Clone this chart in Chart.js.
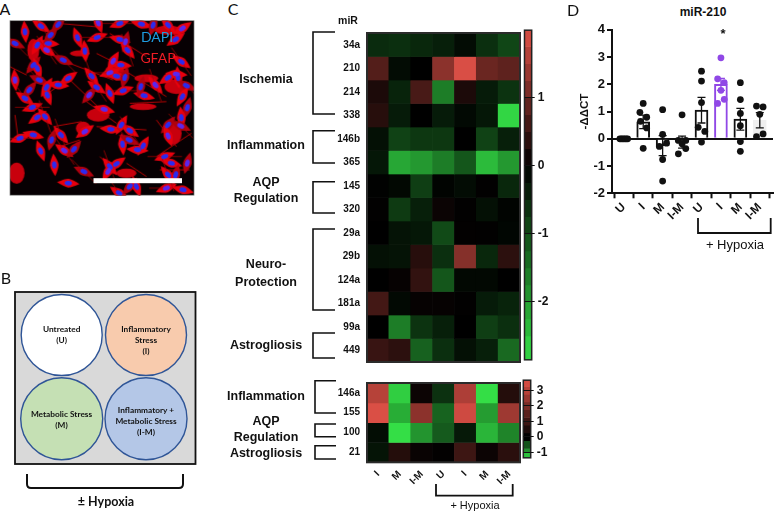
<!DOCTYPE html>
<html><head><meta charset="utf-8">
<style>
html,body{margin:0;padding:0;background:#fff;width:777px;height:512px;overflow:hidden}
canvas{position:absolute}
svg{position:absolute;left:0;top:0}
.t{position:absolute;white-space:nowrap;transform:translate(-50%,-50%);line-height:1;color:#111}
</style>
<script src="https://cdn.jsdelivr.net/npm/chart.js@4"></script>
</head><body>
<svg id="art" width="777" height="512" xmlns="http://www.w3.org/2000/svg"></svg>
<canvas id="heat1"></canvas><canvas id="bar1"></canvas>
<canvas id="heat2"></canvas><canvas id="bar2"></canvas>
<canvas id="panelD"></canvas>
<script>
// ---------- data ----------
const heatColumns = ['I','M','I-M','U','I','M','I-M'];
const rowsTop = ['34a','210','214','338','146b','365','145','320','29a','29b','124a','181a','99a','449'];
const valuesTop = [
 [-0.55,-0.6,-0.5,-0.4,-0.15,-0.6,-0.9],
 [0.75,-0.15,0,1.25,1.95,0.95,0.85],
 [0.25,-0.45,0.65,-1.6,0.25,-0.35,-0.65],
 [0.35,-0.35,0,-0.35,-0.12,-0.3,-2.75],
 [-0.2,-0.85,-0.7,-0.7,0,-0.85,-0.4],
 [-0.3,-2.15,-1.95,-1.6,-1.1,-2.4,-1.95],
 [-0.03,-0.1,-0.8,-0.05,-0.15,0.02,-0.5],
 [0.02,-0.75,-0.4,0.1,0.02,-0.2,-0.05],
 [0,-0.25,-0.3,-0.95,0.03,0.02,-0.08],
 [-0.2,-0.25,0.35,-0.6,1.2,-0.5,0.4],
 [0,0.05,0.45,-1.1,-0.1,-0.1,0],
 [0.6,-0.12,0.05,0.05,0.02,-0.35,-0.45],
 [0,-1.6,-0.65,-0.4,0,-0.8,-0.6],
 [0.5,0.4,-1.25,-0.6,-0.2,-0.4,-1.35]];
const rowsBottom = ['146a','155','100','21'];
const valuesBottom = [
 [3.0,-1.25,0.2,-0.3,2.85,-1.35,0.6],
 [3.6,-1.05,2.3,-0.6,3.4,-0.95,2.6],
 [-0.08,-1.35,-0.9,-0.55,-0.15,-1.1,-0.8],
 [-0.12,0.6,0.15,0.05,1.0,0.2,0.7]];
const scaleTopEdges = [1.99,1.75,1.5,1.25,1,0.75,0.5,0.25,0,-0.25,-0.5,-0.75,-1,-1.25,-1.5,-1.75,-2,-2.25,-2.5,-2.85];
const scaleBottomEdges = [3.66,3.25,2.75,2.25,1.75,1.25,0.75,0.25,-0.25,-0.75,-1,-1.35];
const scaleTopTicks = [-2,-1,0,1];
const scaleBottomTicks = [-1,0,1,2,3];

const barLabels = ['U','I','M','I-M','U','I','M','I-M'];
const barMeans = [0,0.62,-0.25,-0.12,1.05,2.0,0.72,0.68];
const barErrors = [0,0.25,0.37,0.22,0.47,0.22,0.4,0.28];
const pointsByBar = [
 [0,0,0,0,0,0],
 [1.3,0.97,0.79,0.64,0.4,-0.35],
 [1.07,0.16,-0.28,-0.16,-0.76,-1.55],
 [0.88,-0.06,-0.06,-0.18,-0.36,-0.55],
 [2.48,2.12,1.33,0.42,0.27,-0.12],
 [2.97,2.2,2.06,1.78,1.45,1.3],
 [2.06,1.44,0.93,0.48,-0.1,-0.46],
 [1.2,1.17,0.9,0.18,0.08]];
const pointSpread = [
 [-0.2,-0.12,-0.04,0.04,0.12,0.2],
 [0,-0.17,0.18,-0.14,0.18,0],
 [0,0,-0.17,0.2,0,0],
 [0,-0.19,0.19,0,0.19,-0.19],
 [0,0,0,-0.17,0.17,0],
 [0,-0.17,0.17,0,0.17,-0.17],
 [0,0,0,0,0,0],
 [-0.17,0.17,0,0.17,-0.17]];

// ---------- helpers ----------
const FONT = '"Liberation Sans", Arial, sans-serif';
Chart.defaults.font.family = FONT;
Chart.defaults.color = '#111';
Chart.defaults.animation = false;
Chart.defaults.responsive = false;
Chart.defaults.plugins.legend.display = false;
Chart.defaults.plugins.tooltip.enabled = false;

function place(id,l,t,w,h){const c=document.getElementById(id);c.width=w;c.height=h;c.style.left=l+'px';c.style.top=t+'px';c.style.width=w+'px';c.style.height=h+'px';return c;}
function mix(v,hi,lo,red,green){const k=v>=0?v/hi:v/lo,c=v>=0?red:green;return `rgb(${c.map(x=>Math.round(x*k)).join(',')})`;}
const colourTop=v=>mix(v,1.99,-2.85,[221,80,70],[52,222,70]);
const colourBottom=v=>mix(v,3.66,-1.35,[222,80,70],[52,222,70]);
const frame=(w,col)=>({id:'frame',afterDatasetsDraw(ch){const a=ch.chartArea,x=ch.ctx;x.save();x.strokeStyle=col;x.lineWidth=w;x.strokeRect(a.left,a.top,a.right-a.left,a.bottom-a.top);x.restore();}});

function heatmap(id,rows,values,colour,pad,xHeight,showX){
 return new Chart(document.getElementById(id),{type:'bar',
  data:{labels:heatColumns,datasets:rows.map((r,i)=>({label:r,grouped:false,data:values[i].map(()=>[i,i+1]),
    backgroundColor:values[i].map(colour),borderWidth:0,barPercentage:1,categoryPercentage:1}))},
  options:{layout:{padding:pad},scales:{
   x:{display:showX,grid:{display:false,drawTicks:false},border:{display:false},afterFit:s=>{s.height=xHeight},
      ticks:{font:{size:10,weight:'bold'},minRotation:45,maxRotation:45,padding:6,autoSkip:false}},
   y:{min:0,max:rows.length,reverse:true,grid:{display:false,drawTicks:false},border:{display:false},
      afterFit:s=>{s.width=47},
      afterBuildTicks:a=>{a.ticks=rows.map((_,i)=>({value:i+0.5}))},
      ticks:{font:{size:10,weight:'bold'},padding:7,autoSkip:false,callback:v=>rows[Math.floor(v)]}}}},
  plugins:[frame(2,'#2b2b2b')]});
}
function colourScale(id,edges,ticks,colour,pad,axisWidth){
 const steps=edges.slice(0,-1).map((e,i)=>[edges[i+1],e]);
 return new Chart(document.getElementById(id),{type:'bar',
  data:{labels:[''],datasets:steps.map(s=>({grouped:false,data:[s],backgroundColor:colour((s[0]+s[1])/2),borderWidth:0,barPercentage:1,categoryPercentage:1}))},
  options:{layout:{padding:pad},scales:{
   x:{display:false},
   y:{position:'right',min:edges[edges.length-1],max:edges[0],border:{display:false},
      grid:{z:1,color:'#111',lineWidth:1,tickLength:3,tickColor:'#111'},
      afterFit:s=>{s.width=axisWidth},
      afterBuildTicks:a=>{a.ticks=ticks.map(v=>({value:v}))},
      ticks:{font:{size:12,weight:'bold'},padding:3,autoSkip:false,callback:v=>String(v)}}}},
  plugins:[frame(1.5,'#222')]});
}

// ---------- charts ----------
place('heat1',320,20,205,355);
heatmap('heat1',rowsTop,valuesTop,colourTop,{top:7,bottom:4.5,right:5},0,false);
place('bar1',520,20,45,350);
colourScale('bar1',scaleTopEdges,scaleTopTicks,colourTop,{left:4.5,top:5,bottom:3.3},33.3);
place('heat2',320,370,205,120);
heatmap('heat2',rowsBottom,valuesBottom,colourBottom,{top:5.7,right:5},27.7,true);
place('bar2',518,370,45,98);
colourScale('bar2',scaleBottomEdges,scaleBottomTicks,colourBottom,{left:5.3,top:6.7,bottom:6},32.3);

const PURPLE='#9048e6', HILITE=5, FAINT=7;
const errorBars={id:'errorBars',afterDatasetsDraw(ch){
 const x=ch.scales.x,y=ch.scales.y,g=ch.ctx;g.save();g.lineWidth=1.3;
 barMeans.forEach((m,i)=>{if(!barErrors[i])return;const px=x.getPixelForValue(i),a=y.getPixelForValue(m-barErrors[i]),b=y.getPixelForValue(m+barErrors[i]);
  g.strokeStyle=i===HILITE?PURPLE:'#111';g.beginPath();g.moveTo(px,a);g.lineTo(px,b);g.moveTo(px-4,a);g.lineTo(px+4,a);g.moveTo(px-4,b);g.lineTo(px+4,b);g.stroke();});
 g.restore();}};
place('panelD',570,20,207,210);
new Chart(document.getElementById('panelD'),{type:'bar',
 data:{datasets:[
  {type:'scatter',order:1,data:pointsByBar.flatMap((p,i)=>p.map((v,j)=>({x:i+pointSpread[i][j],y:v}))),
   backgroundColor:pointsByBar.flatMap((p,i)=>p.map(()=>i===HILITE?PURPLE:'#111')),pointRadius:3.4,borderWidth:0},
  {type:'bar',order:2,data:barMeans.map((v,i)=>({x:i,y:v})),barThickness:13,
   backgroundColor:barMeans.map((_,i)=>i===FAINT?'#efefef':'#fff'),
   borderColor:barMeans.map((_,i)=>i===HILITE?PURPLE:i===FAINT?'#efefef':'#111'),borderWidth:2}]},
 options:{layout:{padding:{top:8.3}},scales:{
  x:{type:'linear',offset:false,min:-0.606,max:7.68,border:{color:'#111',width:2},
     grid:{drawOnChartArea:false,tickLength:5,tickColor:'#111',tickWidth:2},
     afterFit:s=>{s.height=36.7},
     afterBuildTicks:a=>{a.ticks=barLabels.map((_,i)=>({value:i}))},
     ticks:{font:{size:12,weight:'bold'},minRotation:45,maxRotation:45,autoSkip:false,padding:2,callback:v=>barLabels[v]}},
  y:{min:-2,max:4,border:{color:'#111',width:2},
     title:{display:true,text:'-ΔΔCT',font:{size:11.5,weight:'bold'},padding:{top:8,bottom:0}},
     grid:{color:c=>c.tick.value===0?'#111':'rgba(0,0,0,0)',lineWidth:2,tickLength:5,tickColor:'#111',tickWidth:2},
     afterFit:s=>{s.width=42},
     ticks:{stepSize:1,font:{size:13,weight:'bold'},padding:2}}}},
 plugins:[errorBars]});

// ---------- panel art and labels ----------
const NS='http://www.w3.org/2000/svg',art=document.getElementById('art');
function el(tag,attrs,parent){const e=document.createElementNS(NS,tag);for(const k in attrs)e.setAttribute(k,attrs[k]);(parent||art).appendChild(e);return e;}
function text(s,x,y,size,weight,fam,col){const d=document.createElement('div');d.className='t';d.textContent=s;d.style.cssText=`left:${x}px;top:${y}px;font:${weight} ${size}px ${fam};color:${col||'#111'}`;document.body.appendChild(d);}
function bracket(x1,x2,y1,y2,w){el('path',{d:`M${x2} ${y1}H${x1}V${y2}H${x2}`,fill:'none',stroke:'#111','stroke-width':w||1.6});}
function bracket2(x1,x2,y1,y2){el('path',{d:`M${x1} ${y1}V${y2}H${x2}V${y1}`,fill:'none',stroke:'#111','stroke-width':1.8});}
const LATO='Lato, "Open Sans", sans-serif';

// panel A: fluorescence photo, nuclei
const nuclei=[[123,78],[175,73],[295,68],[360,70],[425,72],[460,75],[505,75],[548,85],[75,95],[45,130],[112,135],[145,130],[140,150],[152,105],[233,113],[292,112],[360,118],[377,125],[383,150],[528,118],[255,153],[190,180],[340,183],[363,195],[545,185],[100,195],[112,205],[330,218],[350,228],[375,232],[275,228],[205,235],[45,240],[118,240],[140,262],[175,255],[290,262],[268,285],[330,280],[370,272],[433,287],[423,260],[467,255],[505,233],[535,232],[560,257],[548,290],[530,222],[75,295],[88,270],[142,285],[97,322],[313,328],[563,323],[135,350],[112,352],[545,353],[543,378],[365,375],[333,388],[390,392],[505,375],[505,408],[60,415],[100,405],[155,420],[183,405],[255,395],[368,433],[388,420],[430,438],[413,450],[193,452],[222,448],[122,453],[495,470],[515,490],[563,490],[330,500],[350,492],[163,495],[252,515],[325,515],[205,550],[358,580],[390,560],[410,560],[500,565],[550,570],[528,525],[505,525]];
const tilt=[35,-50,70,-20,15,-75,50,-35,85,25,-60,5];
const fibres=[[210,190,340,240],[380,215,500,290],[205,235,320,345],[260,305,350,370],[390,310,500,305],[130,290,200,240],[290,160,380,205],[470,360,530,440],[160,380,245,365],[290,380,440,390],[45,345,55,420],[100,120,110,230],[330,100,440,170],[180,440,240,420],[300,470,360,530],[380,490,440,530],[480,510,570,510],[180,70,290,80],[30,200,80,225],[470,470,575,400]];
const blobs=[[295,345,34,20],[345,215,30,22],[50,520,24,32],[530,260,36,22],[430,320,40,10],[520,400,26,34],[250,385,22,20],[240,160,30,9],[100,150,18,34],[440,235,36,12],[505,90,40,14],[380,520,30,14]];
const ph=el('svg',{x:10,y:20.7,width:184,height:174.5,viewBox:'30 62 553 524'});
el('rect',{x:30,y:62,width:553,height:524,fill:'#070003'},ph);
const soft=el('filter',{id:'soft'},ph);el('feGaussianBlur',{stdDeviation:2.2},soft);
const g=el('g',{filter:'url(#soft)'},ph);
fibres.forEach(f=>el('line',{x1:f[0],y1:f[1],x2:f[2],y2:f[3],stroke:'#b8000a','stroke-width':3},g));
blobs.forEach(b=>el('ellipse',{cx:b[0],cy:b[1],rx:b[2],ry:b[3],fill:'#c8000c'},g));
nuclei.forEach((n,i)=>{const a=tilt[i%tilt.length];
 el('path',{d:'M-34 0Q-10 -13 0 -13Q10 -13 34 0Q10 13 0 13Q-10 13 -34 0Z',fill:i%4===1?'#b0000e':'#e8000e',transform:`translate(${n[0]} ${n[1]}) rotate(${a})`},g);
 if(i%3===0)el('line',{x1:-52,y1:0,x2:52,y2:0,stroke:'#a8000a','stroke-width':2.2,transform:`translate(${n[0]} ${n[1]}) rotate(${a+20})`},g);});
nuclei.forEach((n,i)=>el('ellipse',{cx:n[0],cy:n[1],rx:11,ry:7,fill:i%5===2?'#5a28f0':'#2a2cf0',transform:`rotate(${tilt[i%tilt.length]} ${n[0]} ${n[1]})`},g));
el('rect',{x:10,y:20.7,width:184,height:174.5,fill:'none',stroke:'#777','stroke-width':0.7});
el('rect',{x:93.5,y:178.2,width:88.5,height:5,fill:'#fff'});
text('DAPI',157,35.7,14,'400',LATO,'#1f9ce0');
text('GFAP',158,57,14,'400',LATO,'#ee1c25');

// panel B
el('rect',{x:15,y:292,width:180.5,height:172,fill:'#d9d9d9',stroke:'#111','stroke-width':1.8});
[[61.7,335,40.5,'#ffffff'],[146,335,40.5,'#f8cbad'],[61.7,418.7,41,'#c5e0b4'],[146,418.7,41,'#b4c7e7']].forEach(c=>el('circle',{cx:c[0],cy:c[1],r:c[2],fill:c[3],stroke:'#2f5597','stroke-width':1.4}));
const b=(s,x,y)=>text(s,x,y,8.3,'700',LATO);
b('Untreated',61.7,328.7);b('(U)',61.7,339.5);
b('Inflammatory',146,329);b('Stress',146,339.7);b('(I)',146,351);
b('Metabolic Stress',61.5,414.3);b('(M)',61.5,425.3);
b('Inflammatory +',146,410);b('Metabolic Stress',146,421);b('(I-M)',146,431.7);
el('path',{d:'M27 474V484Q27 488 31 488H179Q183 488 183 484V474',fill:'none',stroke:'#111','stroke-width':2});
text('± Hypoxia',106,500.5,12.5,'700',LATO);

// panel letters
text('A',5,8,16,'400',LATO);text('B',6,277,16,'400',LATO);text('C',233,8,16,'400',LATO);text('D',573,9,16,'400',LATO);

// panel C labels and brackets
text('miR',348,20,10.5,'700',FONT);
[[32,114],[130.7,163],[181.7,213],[229,310],[333,358]].forEach(r=>bracket(313,335,r[0],r[1]));
[[380.7,413],[424,436.7],[445.7,459]].forEach(r=>bracket(315,336,r[0],r[1]));
const grp=(s,y)=>text(s,266,y,12.5,'700',FONT);
grp('Ischemia',79);grp('Inflammation',145);grp('AQP',182);grp('Regulation',198);
grp('Neuro-',264);grp('Protection',282);grp('Astrogliosis',345);
grp('Inflammation',396);grp('AQP',421);grp('Regulation',437);grp('Astrogliosis',453);
bracket2(436,512.7,484,495.7);
text('+ Hypoxia',475,505,11,'400',FONT);

// panel D labels
text('miR-210',703,12,12,'700',FONT);
text('*',723,33,13,'700',FONT);
bracket2(698,770.7,218,233);
text('+ Hypoxia',735,244,13,'400',FONT);
</script>
</body></html>
